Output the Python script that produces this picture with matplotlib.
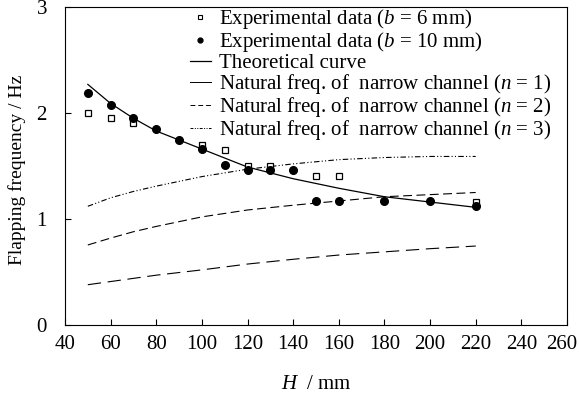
import matplotlib
matplotlib.use("Agg")
import matplotlib.pyplot as plt
from matplotlib.lines import Line2D
import matplotlib.transforms as mtrans

plt.rcParams['font.family'] = ['Liberation Serif', 'DejaVu Serif']
plt.rcParams['mathtext.fontset'] = 'custom'
plt.rcParams['mathtext.rm'] = 'Liberation Serif'
plt.rcParams['mathtext.it'] = 'Liberation Serif:italic'

# Experimental data b = 6 mm (open squares)
h6 = [50, 60, 70, 100, 110, 120, 130, 150, 160, 220]
f6 = [2.00, 1.95, 1.91, 1.70, 1.65, 1.50, 1.50, 1.41, 1.41, 1.16]
# Experimental data b = 10 mm (filled circles)
h10 = [50, 60, 70, 80, 90, 100, 110, 120, 130, 140, 150, 160, 180, 200, 220]
f10 = [2.19, 2.08, 1.95, 1.85, 1.75, 1.66, 1.51, 1.46, 1.46, 1.46, 1.17, 1.17, 1.17, 1.17, 1.12]
# Theoretical curve
ht = [50, 60, 70, 80, 100, 120, 140, 160, 180, 200, 220]
ft = [2.27, 2.09, 1.95, 1.83, 1.66, 1.49, 1.38, 1.29, 1.21, 1.16, 1.11]
# Natural frequencies of narrow channel
hn = [50, 60, 70, 80, 100, 120, 140, 160, 180, 200, 220]
fn1 = [0.38, 0.41, 0.44, 0.47, 0.52, 0.575, 0.62, 0.66, 0.69, 0.72, 0.745]
fn2 = [0.755, 0.82, 0.88, 0.93, 1.02, 1.085, 1.13, 1.17, 1.21, 1.23, 1.25]
fn3 = [1.12, 1.20, 1.26, 1.31, 1.40, 1.47, 1.52, 1.56, 1.58, 1.59, 1.59]

labels = ["Experimental data ($b$ = 6 mm)",
          "Experimental data ($b$ = 10 mm)",
          "Theoretical curve",
          "Natural freq. of  narrow channel ($n$ = 1)",
          "Natural freq. of  narrow channel ($n$ = 2)",
          "Natural freq. of  narrow channel ($n$ = 3)"]

fig = plt.figure(figsize=(5.79, 3.95), dpi=100)
ax = fig.add_axes([65/579, 1-325/395, 502/579, 318/395])

ax.plot(hn, fn1, color='black', lw=0.8, dashes=(12, 6))
ax.plot(hn, fn2, color='black', lw=0.8, dashes=(8, 4))
ax.plot(hn, fn3, color='black', lw=0.8, dashes=(5, 2, 1, 2, 1, 2))
ax.plot(ht, ft, color='black', lw=0.9)
ax.plot(h6, f6, ls='none', marker='s', ms=4.5, mfc='white', mec='black', mew=0.9)
ax.plot(h10, f10, ls='none', marker='o', ms=5.5, mfc='black', mec='black')

handles = [
    Line2D([], [], ls='none', marker='s', ms=3.5, mfc='white', mec='black', mew=0.8),
    Line2D([], [], ls='none', marker='o', ms=3.5, mfc='black', mec='black'),
    Line2D([], [], color='black', lw=0.9),
    Line2D([], [], color='black', lw=0.7),
    Line2D([], [], color='black', lw=0.7, dashes=(5, 3)),
    Line2D([], [], color='black', lw=0.7, dashes=(3, 1.5, 1, 1.5, 1, 1.5)),
]
ax.legend(handles, labels, loc='upper left', bbox_to_anchor=((190-65)/502, 1.0),
          frameon=False, fontsize=15, handlelength=1.0, handletextpad=0.4,
          labelspacing=-0.04, borderaxespad=0.0, borderpad=0.0)

ax.set_xlim(40, 260)
ax.set_ylim(0, 3)
ax.set_xticks(range(40, 261, 20))
ax.set_yticks([0, 1, 2, 3])
ax.tick_params(direction='in', length=4, width=0.8, labelsize=15, top=False, right=False)
ax.tick_params(axis='x', pad=7)
ax.tick_params(axis='y', pad=13)
for s in ax.spines.values():
    s.set_linewidth(0.8)

fig.canvas.draw()
last = ax.get_xticklabels()[-1]
last.set_transform(last.get_transform() + mtrans.ScaledTranslation(-5/100, 0, fig.dpi_scale_trans))

ax.set_xlabel("$H$  / mm", fontsize=15, labelpad=15)
ax.set_ylabel("Flapping frequency / Hz", fontsize=14)
ax.yaxis.set_label_coords(-39/502, 0.487)

fig.savefig("out.png", dpi=100)
